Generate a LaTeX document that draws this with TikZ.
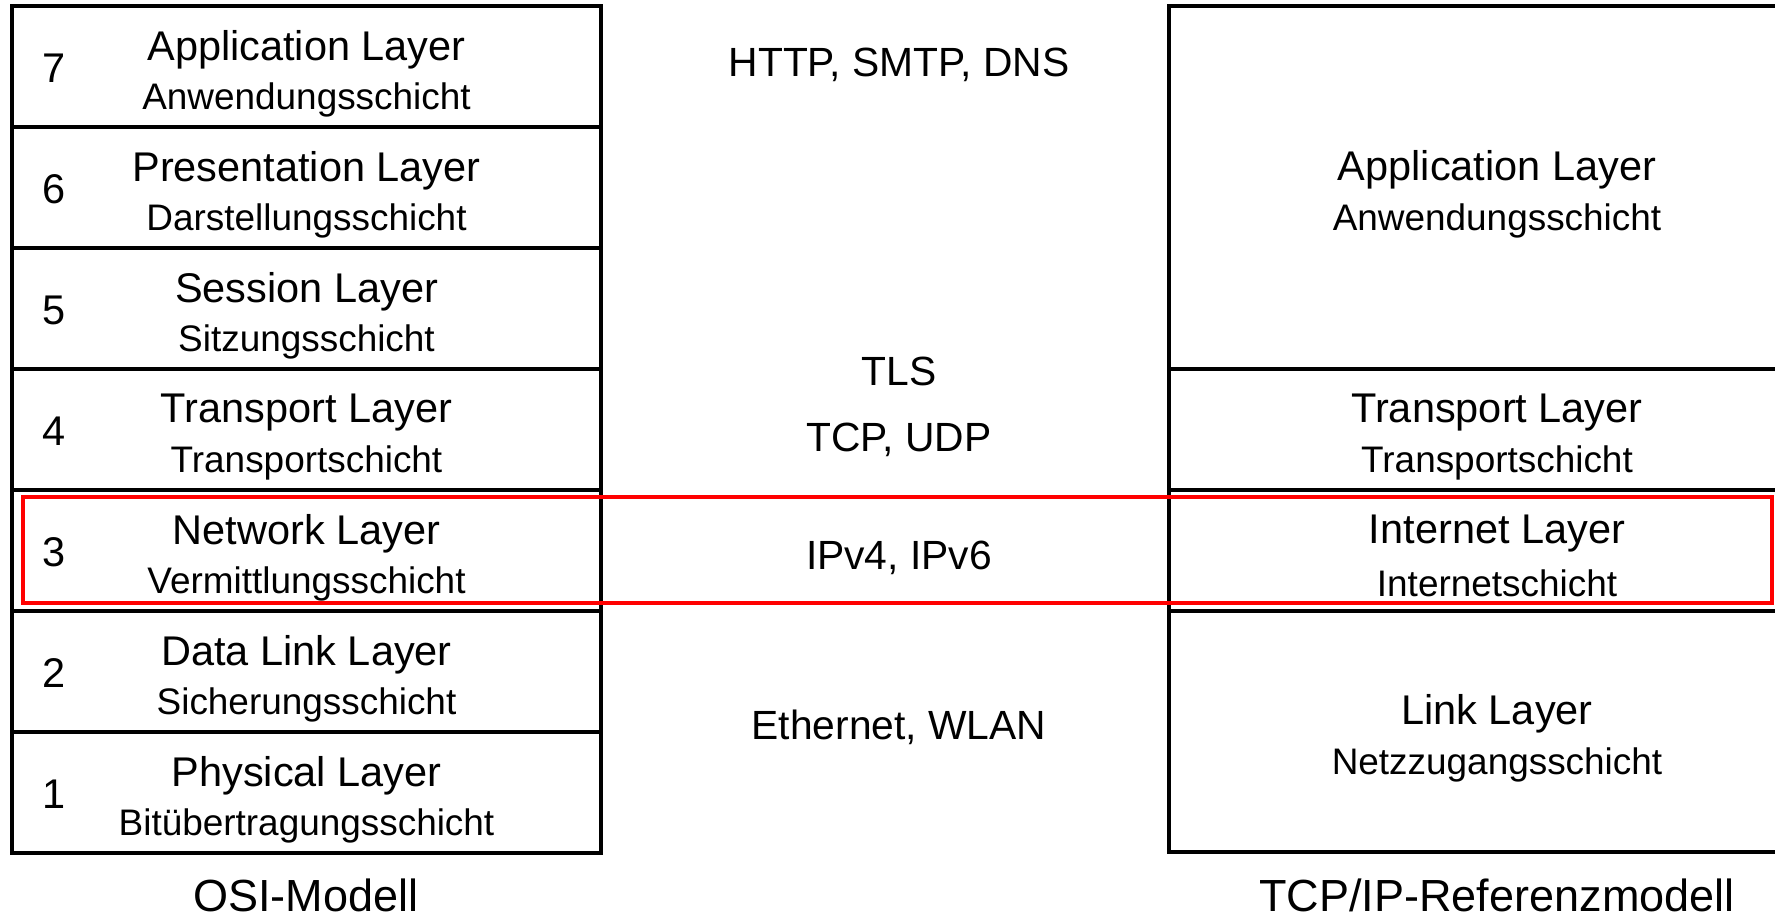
\documentclass[tikz,border=0pt]{standalone}
\usepackage{fontspec}
\setmainfont{Liberation Sans}
\usetikzlibrary{positioning}
\definecolor{hlred}{RGB}{255, 0, 0}

\tikzset{
  layerbox/.style = {draw = black, line width = 1.1pt, inner sep = 0pt, minimum width = 5.89cm, minimum height = 1.21cm},
  tcpbox/.style = {draw = black, line width = 1.1pt, inner sep = 0pt, minimum width = 6.56cm},
  laytitle/.style = {inner sep = 0pt, font = \fontsize{11.8}{14}\selectfont},
  laysub/.style = {inner sep = 0pt, font = \fontsize{10.5}{12}\selectfont},
  proto/.style = {inner sep = 0pt, font = \fontsize{11.6}{14}\selectfont},
  modelname/.style = {inner sep = 0pt, anchor = base, font = \fontsize{12.8}{15}\selectfont}
}

\begin{document}
\begin{tikzpicture}[x = 0.01cm, y = -0.01cm]
\clip (0,0) rectangle (1775,913);
\fill[white] (0,0) rectangle (1775,913);
% OSI stack
\foreach \n/\ttl/\sub [count = \i from 0] in {7/Application Layer/Anwendungsschicht, 6/Presentation Layer/Darstellungsschicht, 5/Session Layer/Sitzungsschicht, 4/Transport Layer/Transportschicht, 3/Network Layer/Vermittlungsschicht, 2/Data Link Layer/Sicherungsschicht, 1/Physical Layer/Bitübertragungsschicht}{
  \node[layerbox] (osi\n) at (306.5, {66.5+121*\i}) {};
  \node[laytitle] (osi\n-nr) at (54, {68.5+121*\i}) {\n};
  \node[laytitle] (osi\n-t) at (306.5, {49.5+121*\i}) {\ttl};
  \node[laysub] (osi\n-s) at (306.5, {99.5+121*\i}) {\sub};
}
% TCP/IP stack
\node[tcpbox, minimum height = 3.63cm] (tcpapp) at (1497,187.5) {};
\node[tcpbox, minimum height = 1.21cm] (tcptrans) at (1497,429.5) {};
\node[tcpbox, minimum height = 1.21cm] (tcpnet) at (1497,550.5) {};
\node[tcpbox, minimum height = 2.41cm] (tcplink) at (1497,731.5) {};
\node[laytitle] (tcpapp-t) at (1497,170) {Application Layer};
\node[laysub] (tcpapp-s) at (1497,220.5) {Anwendungsschicht};
\node[laytitle] (tcptrans-t) at (1497,412.5) {Transport Layer};
\node[laysub] (tcptrans-s) at (1497,462.5) {Transportschicht};
\node[laytitle] (tcpnet-t) at (1497,533.5) {Internet Layer};
\node[laysub] (tcpnet-s) at (1497,583.5) {Internetschicht};
\node[laytitle] (tcplink-t) at (1497,714) {Link Layer};
\node[laysub] (tcplink-s) at (1497,764.5) {Netzzugangsschicht};
% protocols
\node[proto] (http) at (899,65) {HTTP, SMTP, DNS};
\node[proto] (tls) at (899,371) {TLS};
\node[proto] (tcpudp) at (899,440) {TCP, UDP};
\node[proto] (ip) at (899,558) {IPv4, IPv6};
\node[proto] (eth) at (899,727) {Ethernet, WLAN};
\node[modelname] (osiname) at (306,912) {OSI-Modell};
\node[modelname] (tcpname) at (1497,912) {TCP/IP-Referenzmodell};
% highlight
\draw[hlred, line width = 1pt] (23,497) rectangle (1772,603);
\end{tikzpicture}
\end{document}
